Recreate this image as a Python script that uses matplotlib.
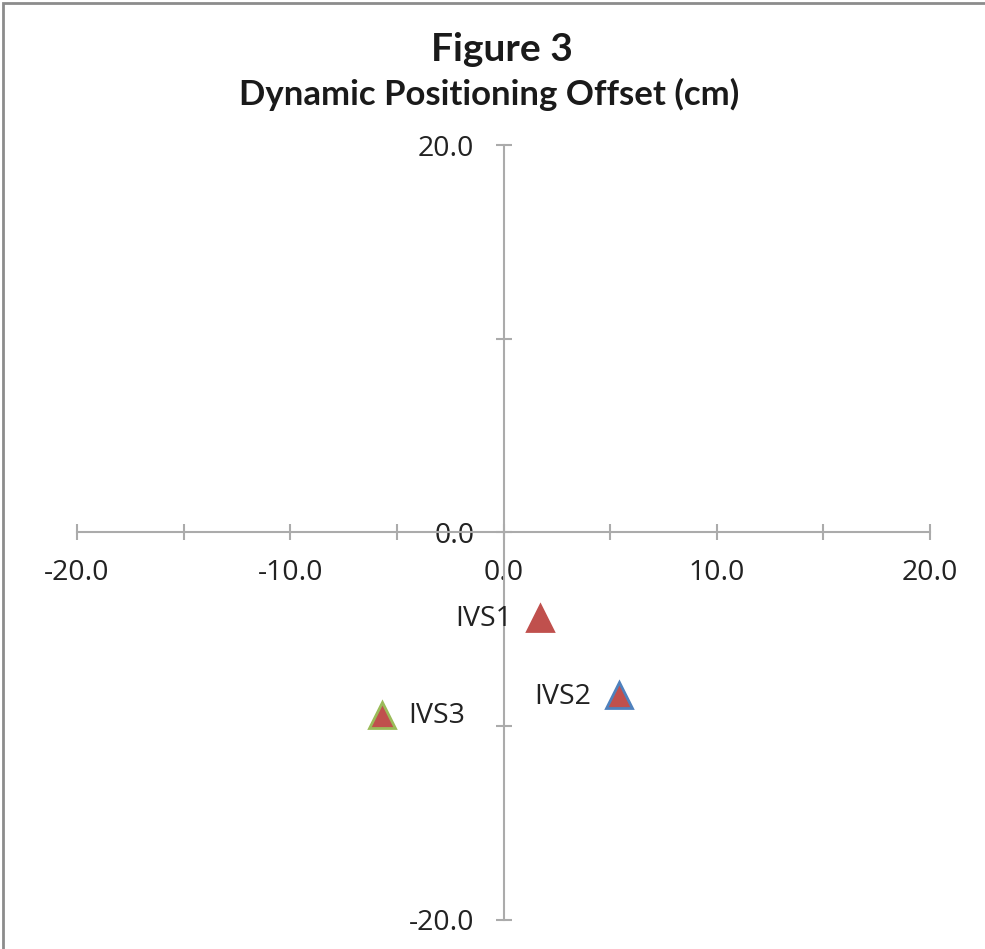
import matplotlib
matplotlib.use("Agg")
import matplotlib.pyplot as plt
from matplotlib.patches import Rectangle

# data (cm)
names = ["IVS1", "IVS2", "IVS3"]
x_off = [1.7, 5.4, -5.7]
y_off = [-4.4, -8.4, -9.4]
edge_colors = ["#C0504D", "#4F81BD", "#9BBB59"]
fill_color = "#C0504D"

x_ticks = [-20, -15, -10, -5, 0, 5, 10, 15, 20]
x_labels = ["-20.0", "", "-10.0", "", "0.0", "", "10.0", "", "20.0"]
y_ticks = [-20, -10, 0, 10, 20]
y_labels = ["-20.0", "", "0.0", "", "20.0"]

axis_gray = "#ABABAB"
txt = "#222222"
fs = 20.5

fig = plt.figure(figsize=(9.85, 9.49), dpi=100)
ax = fig.add_axes([0.0782, 0.0306, 0.866, 0.8166])
ax.set_xlim(-20, 20)
ax.set_ylim(-20, 20)

for s in ["top", "right"]:
    ax.spines[s].set_visible(False)
ax.spines["left"].set_position(("data", 0))
ax.spines["bottom"].set_position(("data", 0))
for s in ["left", "bottom"]:
    ax.spines[s].set_color(axis_gray)
    ax.spines[s].set_linewidth(1.5)

ax.set_xticks(x_ticks)
ax.set_xticklabels(x_labels)
ax.set_yticks(y_ticks)
ax.set_yticklabels(y_labels)
ax.tick_params(axis="both", direction="inout", length=12, width=1.5,
               color=axis_gray, labelsize=fs, labelcolor=txt)
ax.tick_params(axis="x", pad=13)
ax.tick_params(axis="y", pad=15)
for lab in ax.get_xticklabels() + ax.get_yticklabels():
    lab.set_fontfamily("Open Sans")

for i in range(len(names)):
    ax.plot(x_off[i], y_off[i], marker="^", markersize=19, linestyle="none",
            markerfacecolor=fill_color, markeredgecolor=edge_colors[i],
            markeredgewidth=2, clip_on=False, zorder=3)

ax.annotate(names[0], (x_off[0], y_off[0]), xytext=(-20, -1), textcoords="offset points",
            ha="right", va="center", fontsize=fs, family="Open Sans", color=txt)
ax.annotate(names[1], (x_off[1], y_off[1]), xytext=(-20, -1), textcoords="offset points",
            ha="right", va="center", fontsize=fs, family="Open Sans", color=txt)
ax.annotate(names[2], (x_off[2], y_off[2]), xytext=(19, -1), textcoords="offset points",
            ha="left", va="center", fontsize=fs, family="Open Sans", color=txt)

fig.text(0.51, 0.948, "Figure 3", ha="center", va="center", fontsize=28,
         fontweight="bold", family="Lato", color="#1a1a1a")
fig.text(0.497, 0.9, "Dynamic Positioning Offset (cm)", ha="center", va="center",
         fontsize=25, fontweight="bold", family="Lato", color="#1a1a1a")

# outer chart frame (left and top visible)
fig.patches.append(Rectangle((0.003, -0.01), 1.2, 1.007, transform=fig.transFigure,
                             fill=False, edgecolor="#8c8c8c", linewidth=2))

fig.savefig("out.png", dpi=100)
